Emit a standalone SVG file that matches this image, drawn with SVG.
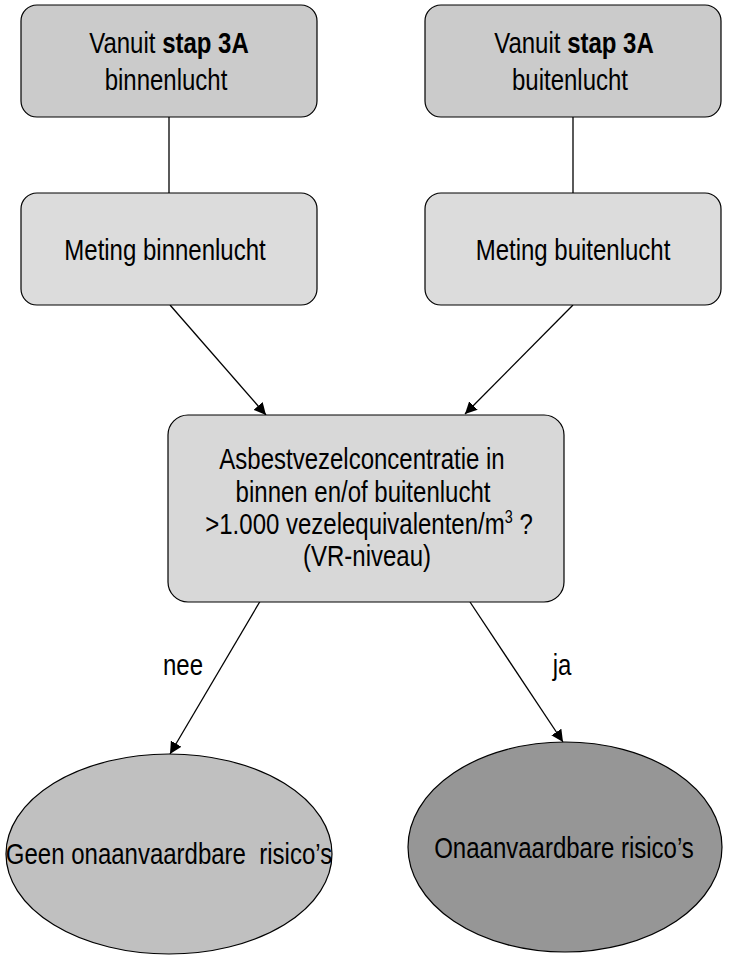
<svg xmlns="http://www.w3.org/2000/svg" width="730" height="965" viewBox="0 0 730 965">
<style>
text{font-family:"Liberation Sans",Arial,sans-serif;font-size:30px;fill:#000;text-anchor:middle}
.box{stroke:#000;stroke-width:1.2}
.ln{stroke:#000;stroke-width:1.3;fill:none}
</style>
<defs>
<marker id="ah" viewBox="0 0 10 10" refX="10" refY="5" markerWidth="12" markerHeight="12" markerUnits="userSpaceOnUse" orient="auto">
<path d="M0,0 L10,5 L0,10 z" fill="#000"/>
</marker>
</defs>
<rect width="730" height="965" fill="#fff"/>
<g id="connectors">
<line class="ln" x1="169" y1="117" x2="169" y2="193"/>
<line class="ln" x1="573" y1="117" x2="573" y2="193"/>
<line class="ln" x1="170" y1="305" x2="266" y2="415" marker-end="url(#ah)"/>
<line class="ln" x1="573" y1="305" x2="465" y2="414" marker-end="url(#ah)"/>
<line class="ln" x1="262" y1="598" x2="170" y2="754" marker-end="url(#ah)"/>
<line class="ln" x1="470" y1="602" x2="563" y2="742" marker-end="url(#ah)"/>
<text transform="translate(183 675) scale(0.8 1)">nee</text>
<text transform="translate(562 675) scale(0.8 1)">ja</text>
</g>
<g id="start-binnen">
<rect class="box" x="21" y="5" width="296" height="112" rx="16" fill="#cbcbcb"/>
<text transform="translate(169 53) scale(0.8 1)">Vanuit <tspan font-weight="bold">stap 3A</tspan></text>
<text transform="translate(166 90) scale(0.8 1)">binnenlucht</text>
</g>
<g id="start-buiten">
<rect class="box" x="425" y="5" width="296" height="112" rx="16" fill="#cbcbcb"/>
<text transform="translate(574 53) scale(0.8 1)">Vanuit <tspan font-weight="bold">stap 3A</tspan></text>
<text transform="translate(570 90) scale(0.8 1)">buitenlucht</text>
</g>
<g id="meting-binnen">
<rect class="box" x="21" y="193" width="296" height="112" rx="16" fill="#dcdcdc"/>
<text transform="translate(165 260) scale(0.8 1)">Meting binnenlucht</text>
</g>
<g id="meting-buiten">
<rect class="box" x="425" y="193" width="296" height="112" rx="16" fill="#dcdcdc"/>
<text transform="translate(573 260) scale(0.8 1)">Meting buitenlucht</text>
</g>
<g id="vraag">
<rect class="box" x="168" y="415" width="396" height="187" rx="20" fill="#d8d8d8"/>
<text transform="translate(362 469) scale(0.8 1)">Asbestvezelconcentratie in</text>
<text transform="translate(363 502) scale(0.8 1)">binnen en/of buitenlucht</text>
<text transform="translate(369 534) scale(0.8 1)">&gt;1.000 vezelequivalenten/m<tspan font-size="18" dy="-11">3</tspan><tspan dy="11"> ?</tspan></text>
<text transform="translate(367 566) scale(0.8 1)">(VR-niveau)</text>
</g>
<g id="geen-risico">
<ellipse class="box" cx="169" cy="854" rx="163" ry="100" fill="#c0c0c0"/>
<text transform="translate(169 864) scale(0.8 1)" xml:space="preserve">Geen onaanvaardbare  risico’s</text>
</g>
<g id="risico">
<ellipse class="box" cx="565" cy="847" rx="157" ry="105" fill="#969696"/>
<text transform="translate(564 858) scale(0.8 1)">Onaanvaardbare risico’s</text>
</g>
</svg>
